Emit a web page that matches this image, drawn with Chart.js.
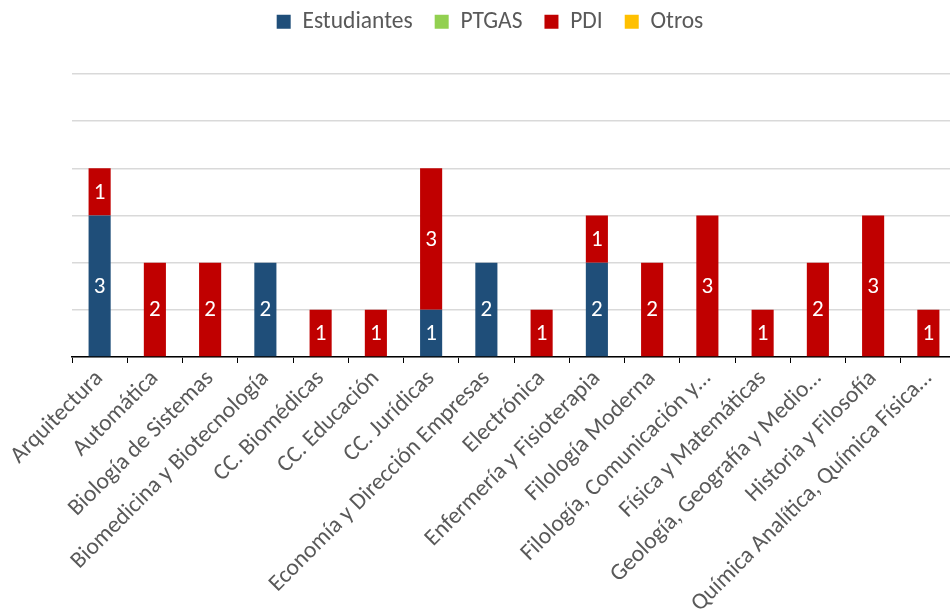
<!DOCTYPE html>
<html lang="es">
<head>
<meta charset="utf-8">
<title>Personas por departamento</title>
<script src="https://cdn.jsdelivr.net/npm/chart.js@4.4.1/dist/chart.umd.min.js"></script>
<style>
  html, body { margin: 0; padding: 0; background: #fff; overflow: hidden; }
  #wrap { position: relative; width: 956px; height: 613px; }
</style>
</head>
<body>
<div id="wrap"><canvas id="chart"></canvas></div>
<script>
// Departamentos (eje X)
const categories = [
  'Arquitectura',
  'Automática',
  'Biología de Sistemas',
  'Biomedicina y Biotecnología',
  'CC. Biomédicas',
  'CC. Educación',
  'CC. Jurídicas',
  'Economía y Dirección Empresas',
  'Electrónica',
  'Enfermería y Fisioterapia',
  'Filología Moderna',
  'Filología, Comunicación y…',
  'Física y Matemáticas',
  'Geología, Geografía y Medio…',
  'Historia y Filosofía',
  'Química Analítica, Química Física…'
];

// Número de personas por colectivo
const estudiantes = [3, 0, 0, 2, 0, 0, 1, 2, 0, 2, 0, 0, 0, 0, 0, 0];
const ptgas       = [0, 0, 0, 0, 0, 0, 0, 0, 0, 0, 0, 0, 0, 0, 0, 0];
const pdi         = [1, 2, 2, 0, 1, 1, 3, 0, 1, 1, 2, 3, 1, 2, 3, 1];
const otros       = [0, 0, 0, 0, 0, 0, 0, 0, 0, 0, 0, 0, 0, 0, 0, 0];

const FONT = 'Carlito, Calibri, Lato, sans-serif';

// Etiquetas de valor centradas dentro de cada segmento
const valueLabels = {
  id: 'valueLabels',
  afterDatasetsDraw(chart) {
    const ctx = chart.ctx;
    ctx.save();
    ctx.fillStyle = '#ffffff';
    ctx.font = '23px ' + FONT;
    ctx.textAlign = 'center';
    ctx.textBaseline = 'middle';
    chart.data.datasets.forEach((ds, di) => {
      const meta = chart.getDatasetMeta(di);
      if (meta.hidden) return;
      meta.data.forEach((bar, i) => {
        const v = ds.data[i];
        if (!v) return;
        ctx.fillText(String(v), bar.x, (bar.y + bar.base) / 2 + 1);
      });
    });
    ctx.restore();
  }
};

// Ajuste de la leyenda: altura fija y desplazamiento
const legendLayout = {
  id: 'legendLayout',
  beforeInit(chart) {
    const lg = chart.legend;
    const orig = lg.fit;
    lg.fit = function () { orig.call(this); this.height = 74; };
  },
  afterLayout(chart) {
    const lg = chart.legend;
    const dx = 24, dy = 12;
    lg.left -= dx; lg.right -= dx;
    lg.top -= dy; lg.bottom -= dy;
  }
};

new Chart(document.getElementById('chart'), {
  type: 'bar',
  data: {
    labels: categories,
    datasets: [
      { label: 'Estudiantes', data: estudiantes, backgroundColor: '#1F4E79' },
      { label: 'PTGAS',       data: ptgas,       backgroundColor: '#92D050' },
      { label: 'PDI',         data: pdi,         backgroundColor: '#C00000' },
      { label: 'Otros',       data: otros,       backgroundColor: '#FFC000' }
    ]
  },
  options: {
    responsive: true,
    maintainAspectRatio: false,
    animation: false,
    datasets: { bar: { categoryPercentage: 1, barPercentage: 0.4, borderWidth: 0 } },
    layout: { padding: { left: 72, right: 0, top: 0, bottom: 0 } },
    plugins: {
      tooltip: { enabled: false },
      legend: {
        position: 'top',
        labels: {
          boxWidth: 14, boxHeight: 14, padding: 22,
          color: '#595959',
          font: { family: FONT, size: 23.5 }
        }
      }
    },
    scales: {
      x: {
        stacked: true,
        offset: true,
        grid: { offset: true, drawOnChartArea: false, drawTicks: true, tickLength: 6, color: '#000', lineWidth: 1 },
        border: { display: true, color: '#000', width: 1.5 },
        ticks: {
          minRotation: 45, maxRotation: 45, autoSkip: false, padding: 2,
          color: '#595959',
          font: { family: FONT, size: 23.5 }
        },
        afterFit(scale) {
          scale.paddingLeft = 0; scale.paddingRight = 0;
          scale.height = 613 - 357;
        }
      },
      y: {
        stacked: true,
        min: 0, max: 6,
        ticks: { display: false, stepSize: 1 },
        grid: { color: '#d9d9d9', lineWidth: 1.5, drawTicks: false },
        border: { display: false },
        afterFit(scale) { scale.width = 0; }
      }
    }
  },
  plugins: [valueLabels, legendLayout]
});
</script>
</body>
</html>
